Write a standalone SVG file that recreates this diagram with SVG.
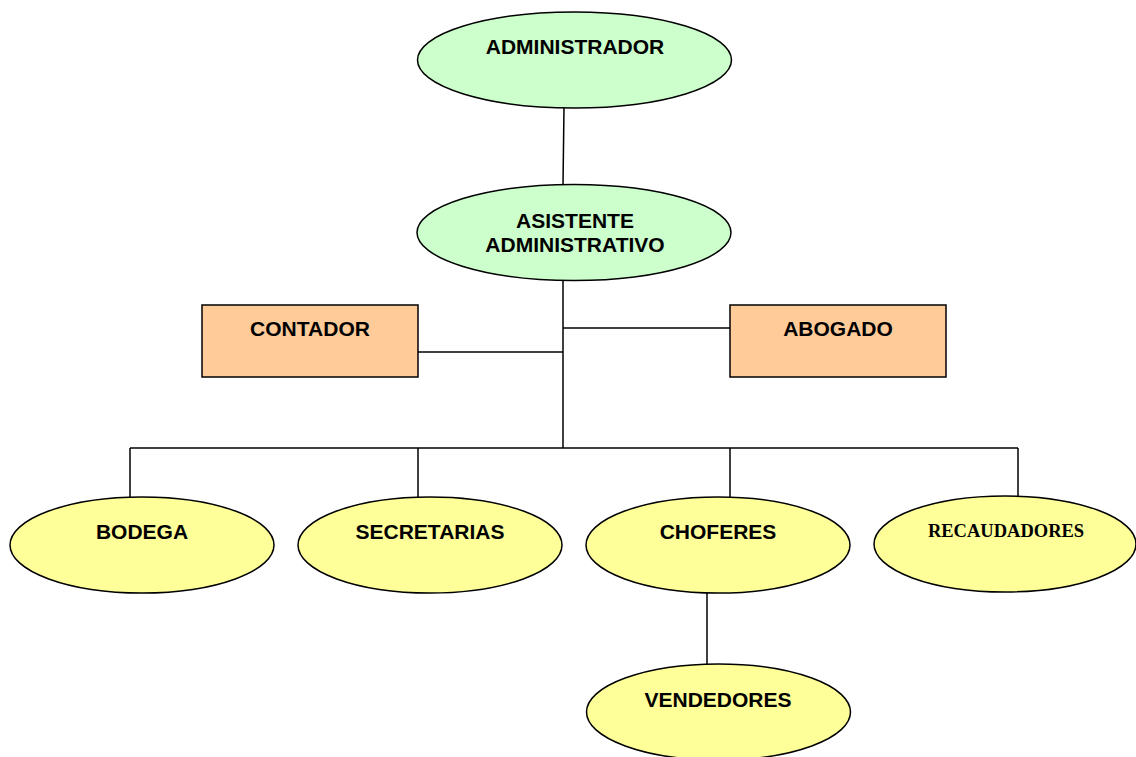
<svg xmlns="http://www.w3.org/2000/svg" width="1136" height="757" viewBox="0 0 1136 757">
<style>
.g{fill:#CCFFCC;stroke:#000;stroke-width:1.5}
.o{fill:#FFCC99;stroke:#000;stroke-width:1.5}
.y{fill:#FFFF99;stroke:#000;stroke-width:1.5}
.t{font-family:"Liberation Sans",Arial,sans-serif;font-weight:bold;font-size:21px;fill:#000;text-anchor:middle}
.s{font-family:"Liberation Serif","Times New Roman",serif;font-weight:bold;font-size:18.5px;fill:#000;text-anchor:middle}
.c{stroke:#000;stroke-width:1.5;fill:none}
</style>
<rect width="1136" height="757" fill="#fff"/>
<g id="connectors" class="c">
<line x1="564" y1="107" x2="563" y2="185"/>
<line x1="563" y1="280" x2="563" y2="448"/>
<line x1="418" y1="352" x2="563" y2="352"/>
<line x1="563" y1="328" x2="730" y2="328"/>
<line x1="130" y1="448" x2="1018" y2="448"/>
<line x1="130" y1="448" x2="130" y2="497"/>
<line x1="418" y1="448" x2="418" y2="497"/>
<line x1="730" y1="448" x2="730" y2="497"/>
<line x1="1018" y1="448" x2="1018" y2="497"/>
<line x1="707" y1="593" x2="707" y2="664"/>
</g>
<g id="administrador"><ellipse class="g" cx="574.5" cy="60" rx="157" ry="48"/><text class="t" x="575" y="54">ADMINISTRADOR</text></g>
<g id="asistente"><ellipse class="g" cx="574" cy="232.5" rx="157" ry="48"/><text class="t" x="575" y="228">ASISTENTE</text><text class="t" x="575" y="252">ADMINISTRATIVO</text></g>
<g id="contador"><rect class="o" x="202" y="305" width="216" height="72"/><text class="t" x="310" y="336">CONTADOR</text></g>
<g id="abogado"><rect class="o" x="730" y="305" width="216" height="72"/><text class="t" x="838" y="336">ABOGADO</text></g>
<g id="bodega"><ellipse class="y" cx="142" cy="545" rx="132" ry="48"/><text class="t" x="142" y="539">BODEGA</text></g>
<g id="secretarias"><ellipse class="y" cx="430" cy="545" rx="132" ry="48"/><text class="t" x="430" y="539">SECRETARIAS</text></g>
<g id="choferes"><ellipse class="y" cx="718" cy="545" rx="132" ry="48"/><text class="t" x="718" y="539">CHOFERES</text></g>
<g id="recaudadores"><ellipse class="y" cx="1005" cy="544" rx="131" ry="48"/><text class="s" x="1006" y="537">RECAUDADORES</text></g>
<g id="vendedores"><ellipse class="y" cx="718.5" cy="712" rx="132" ry="48"/><text class="t" x="718" y="707">VENDEDORES</text></g>
</svg>
